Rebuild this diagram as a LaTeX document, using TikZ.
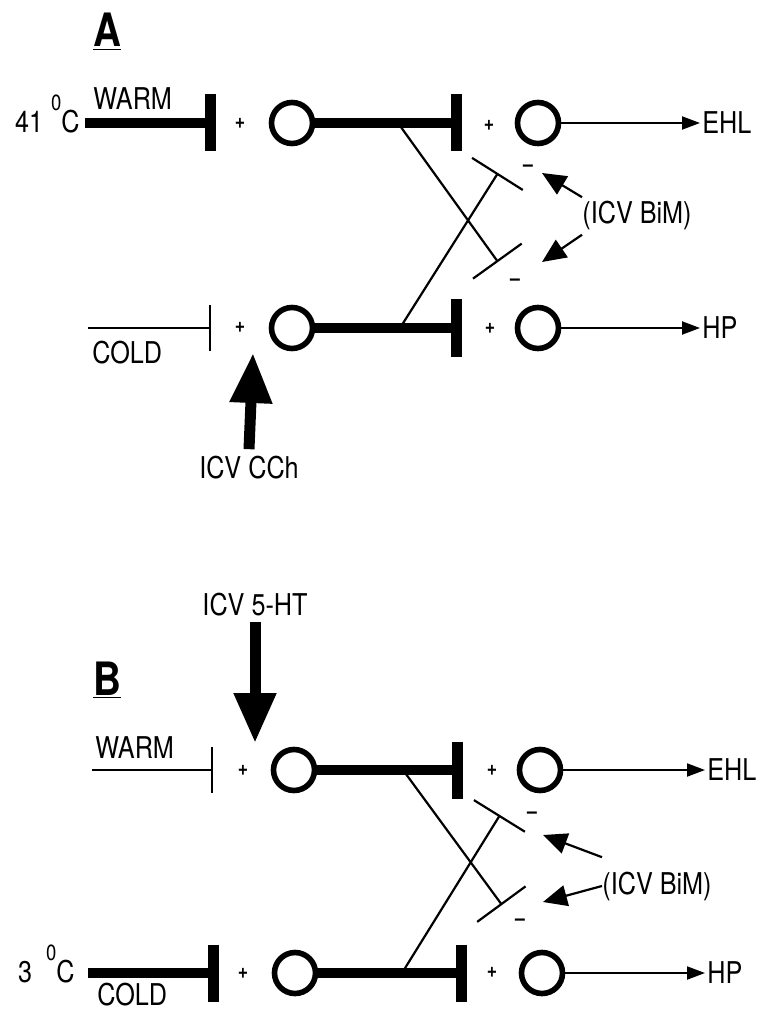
\documentclass[tikz,border=0pt]{standalone}
\usepackage{fontspec}
\setmainfont{TeX Gyre Heros}[FakeStretch=0.84]
\usetikzlibrary{arrows.meta,positioning}
\tikzset{
  lab/.style={inner sep=0pt, font=\fontsize{15}{16}\selectfont},
  panel/.style={inner sep=0pt, font=\fontsize{23}{24}\selectfont\bfseries},
  sgn/.style={inner sep=0pt, font=\fontsize{10.5}{11}\selectfont\bfseries},
  cell/.style={circle, draw, line width=2.8pt, minimum size=20.5pt, inner sep=0pt},
  syn/.style={line width=5pt, -{Bar[width=28.5pt, line width=5.5pt]}},
  synthin/.style={line width=1pt, -{Bar[width=23pt, line width=1pt]}},
  cross/.style={line width=1.1pt, -{Bar[width=30pt, line width=1.1pt]}},
  outarr/.style={line width=1pt, -{Triangle[length=9pt, width=6.5pt]}},
  ptr/.style={line width=1.1pt, -{Triangle[length=12pt, width=10.5pt]}},
  drug/.style={line width=5.5pt, -{Triangle[length=25pt, width=20pt]}},
}
\newcommand{\degsup}{\raisebox{11pt}{\fontsize{11}{11}\selectfont 0}}

\begin{document}
\begin{tikzpicture}[x=0.5pt, y=-0.5pt]
  \useasboundingbox (0,0) rectangle (757,1010);
  % --- panel A ---
  \node[panel, anchor=base west] (pA) at (93,47) {\underline{A}};
  \node[cell] (wA) at (292,123) {};
  \node[cell] (cA) at (292,328) {};
  \node[cell] (eA) at (538,123) {};
  \node[cell] (hA) at (538,328) {};
  \node[sgn] (s1A) at (240,123) {+};
  \node[sgn] (s2A) at (240,327) {+};
  \node[sgn] (s3A) at (489,125) {+};
  \node[sgn] (s4A) at (490,328) {+};
  \node[sgn] (m1A) at (528,168) {--};
  \node[sgn] (m2A) at (515,282) {--};
  \node[lab, anchor=base east] (tA) at (80,133) {41\hspace{4pt}\degsup C};
  \node[lab, anchor=base west] (warmA) at (93,110) {WARM};
  \node[lab, anchor=base west] (coldA) at (92,363) {COLD};
  \node[lab, anchor=base] (cch) at (249,478) {ICV CCh};
  \node[lab, anchor=base west] (bimA) at (582,224) {(ICV BiM)};
  \coordinate (iwA) at (85,123);  \coordinate (bwA) at (216,123);
  \coordinate (icA) at (88,328);  \coordinate (bcA) at (211,328);
  \coordinate (beA) at (462,123); \coordinate (bhA) at (462,328);
  \coordinate (xwA) at (398,123); \coordinate (kwA) at (498,262);
  \coordinate (xcA) at (400,328); \coordinate (kcA) at (498,173);
  \coordinate (oeA) at (700,123); \coordinate (ohA) at (700,328);
  \coordinate (qeA) at (542,173); \coordinate (qhA) at (542,262);
  \coordinate (dA) at (253,353);
  \node[lab, right=1pt of oeA] (ehlA) {EHL};
  \node[lab, right=1pt of ohA] (hpA) {HP};
  \draw[syn] (iwA) -- (bwA);
  \draw[synthin] (icA) -- (bcA);
  \draw[syn] (wA) -- (beA);
  \draw[syn] (cA) -- (bhA);
  \draw[cross] (xwA) -- (kwA);
  \draw[cross] (xcA) -- (kcA);
  \draw[outarr] (eA) -- (oeA);
  \draw[outarr] (hA) -- (ohA);
  \draw[ptr] ([yshift=2pt]bimA.north west) -- (qeA);
  \draw[ptr] ([yshift=-2pt]bimA.south west) -- (qhA);
  \draw[drug] ([yshift=3pt]cch.north) -- (dA);
  % --- panel B ---
  \node[panel, anchor=base west] (pB) at (93,695) {\underline{B}};
  \node[cell] (wB) at (294,770) {};
  \node[cell] (cB) at (295,973) {};
  \node[cell] (eB) at (540,770) {};
  \node[cell] (hB) at (542,973) {};
  \node[sgn] (s1B) at (243,770) {+};
  \node[sgn] (s2B) at (243,973) {+};
  \node[sgn] (s3B) at (492,770) {+};
  \node[sgn] (s4B) at (492,972) {+};
  \node[sgn] (m1B) at (532,815) {--};
  \node[sgn] (m2B) at (520,922) {--};
  \node[lab, anchor=base] (ht) at (255,615) {ICV 5-HT};
  \node[lab, anchor=base west] (warmB) at (95,758) {WARM};
  \node[lab, anchor=base east] (tB) at (75,982) {3\hspace{7pt}\degsup C};
  \node[lab, anchor=base west] (coldB) at (97,1005) {COLD};
  \node[lab, anchor=base west] (bimB) at (602,894) {(ICV BiM)};
  \coordinate (iwB) at (92,770);  \coordinate (bwB) at (213,770);
  \coordinate (icB) at (88,973);  \coordinate (bcB) at (219,973);
  \coordinate (beB) at (463,770); \coordinate (bhB) at (467,973);
  \coordinate (xwB) at (403,770); \coordinate (kwB) at (502,905);
  \coordinate (xcB) at (402,973); \coordinate (kcB) at (500,815);
  \coordinate (oeB) at (705,770); \coordinate (ohB) at (705,973);
  \coordinate (qeB) at (543,835); \coordinate (qhB) at (543,902);
  \coordinate (dB) at (255,743);
  \node[lab, right=1pt of oeB] (ehlB) {EHL};
  \node[lab, right=1pt of ohB] (hpB) {HP};
  \draw[synthin] (iwB) -- (bwB);
  \draw[syn] (icB) -- (bcB);
  \draw[syn] (wB) -- (beB);
  \draw[syn] (cB) -- (bhB);
  \draw[cross] (xwB) -- (kwB);
  \draw[cross] (xcB) -- (kcB);
  \draw[outarr] (eB) -- (oeB);
  \draw[outarr] (hB) -- (ohB);
  \draw[ptr] ([yshift=7pt]bimB.north west) -- (qeB);
  \draw[ptr] (bimB.west) -- (qhB);
  \draw[drug] ([yshift=-3pt]ht.south) -- (dB);
\end{tikzpicture}
\end{document}
